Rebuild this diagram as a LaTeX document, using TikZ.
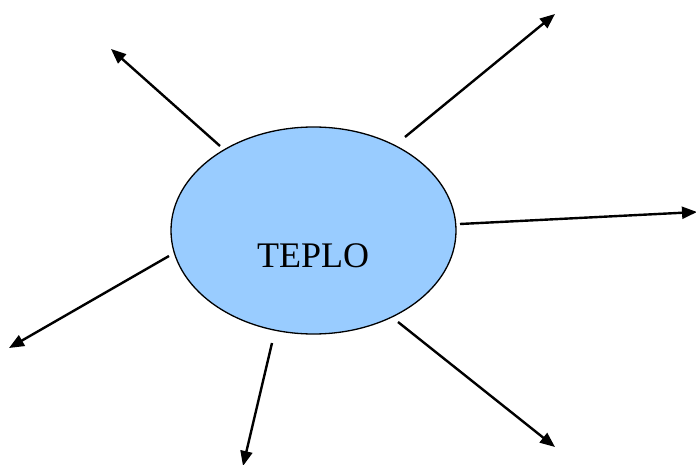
\documentclass[tikz,border=0pt]{standalone}
\usepackage{fontspec}
\setmainfont{Liberation Serif}
\usetikzlibrary{shapes.geometric,arrows.meta}
\definecolor{blobfill}{HTML}{99CCFF}
\tikzset{
  blob/.style={ellipse,draw=black,line width=1.3pt,fill=blobfill,minimum width=285pt,minimum height=207pt,inner sep=0pt},
  ray/.style={line width=2.4pt,-{Triangle[length=15pt,width=12pt]}},
  lbl/.style={font=\fontsize{36}{40}\selectfont,inner sep=0pt}
}
\begin{document}
\begin{tikzpicture}[x=1pt,y=-1pt]
\useasboundingbox (0,0) rectangle (696,465);
\node[blob] (e) at (313.5,230.5) {};
\node[lbl] (t) at (313,256) {TEPLO};
\coordinate (s1) at (220,146); \coordinate (e1) at (111,49);
\coordinate (s2) at (405,137); \coordinate (e2) at (555,14);
\coordinate (s3) at (460,224); \coordinate (e3) at (697,212);
\coordinate (s4) at (169,256); \coordinate (e4) at (9,348);
\coordinate (s5) at (272,343); \coordinate (e5) at (243,466);
\coordinate (s6) at (398,322); \coordinate (e6) at (555,447);
\draw[ray] (s1) -- (e1);
\draw[ray] (s2) -- (e2);
\draw[ray] (s3) -- (e3);
\draw[ray] (s4) -- (e4);
\draw[ray] (s5) -- (e5);
\draw[ray] (s6) -- (e6);
\end{tikzpicture}
\end{document}
